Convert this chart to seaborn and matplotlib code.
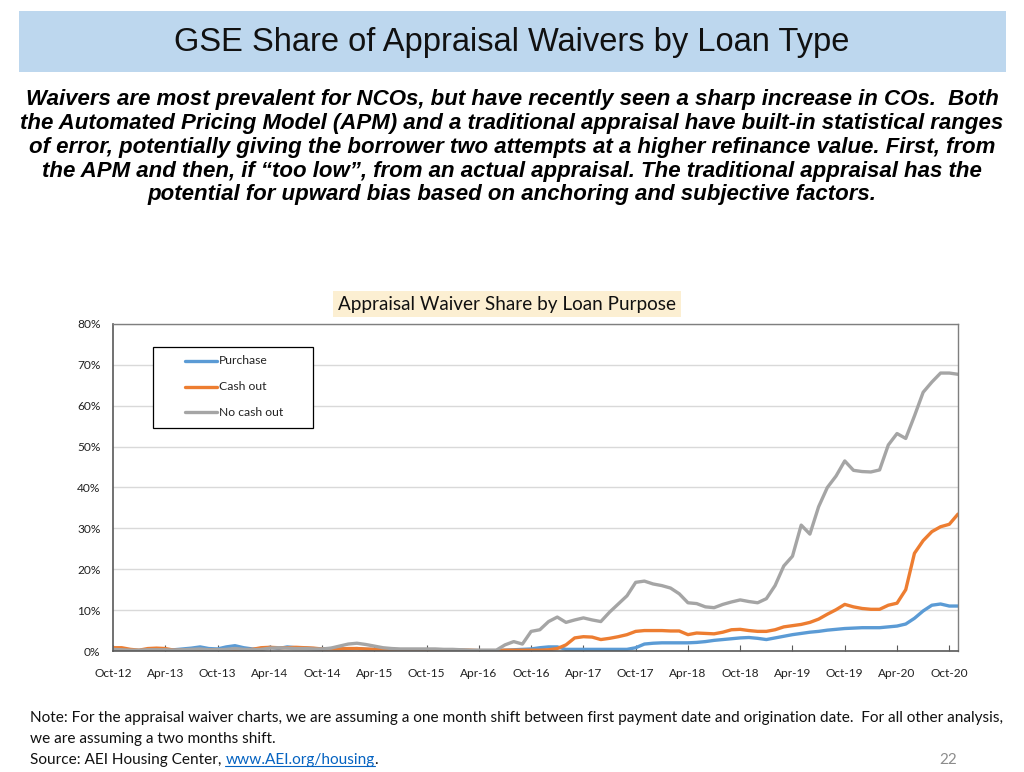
import numpy as np
import pandas as pd
import matplotlib
matplotlib.use("Agg")
import matplotlib.pyplot as plt
import seaborn as sns
from matplotlib.lines import Line2D
from matplotlib.patches import Rectangle

# ---------------- data ----------------
tick_labels = ["Oct-12", "Apr-13", "Oct-13", "Apr-14", "Oct-14", "Apr-15", "Oct-15",
               "Apr-16", "Oct-16", "Apr-17", "Oct-17", "Apr-18", "Oct-18", "Apr-19",
               "Oct-19", "Apr-20", "Oct-20"]
series_names = ["Purchase", "Cash out", "No cash out"]

purchase = [0.3, 0.2, 0.1, 0.1, 0.2, 0.3, 0.2, 0.3, 0.5, 0.7,
            1.0, 0.6, 0.5, 1.0, 1.3, 0.8, 0.5, 0.4, 0.9, 0.6,
            1.0, 0.8, 0.7, 0.6, 0.5, 0.6, 0.5, 0.5, 0.6, 0.4,
            0.4, 0.3, 0.3, 0.3, 0.3, 0.3, 0.3, 0.2, 0.2, 0.2,
            0.2, 0.1, 0.1, 0.1, 0.1, 0.2, 0.3, 0.4, 0.5, 0.8,
            1.0, 1.0, 0.4, 0.4, 0.4, 0.4, 0.4, 0.4, 0.4, 0.4,
            0.8, 1.7, 1.9, 2.0, 2.0, 2.0, 2.0, 2.1, 2.3, 2.6,
            2.8, 3.0, 3.2, 3.3, 3.1, 2.8, 3.2, 3.6, 4.0, 4.3,
            4.6, 4.8, 5.1, 5.3, 5.5, 5.6, 5.7, 5.7, 5.7, 5.9,
            6.1, 6.6, 8.0, 9.8, 11.2, 11.5, 11.0, 11.0]

cash_out = [0.8, 0.8, 0.4, 0.2, 0.6, 0.7, 0.6, 0.2, 0.2, 0.2,
            0.2, 0.3, 0.3, 0.2, 0.2, 0.3, 0.4, 0.8, 0.9, 0.8,
            0.8, 0.9, 0.8, 0.7, 0.5, 0.5, 0.5, 0.6, 0.6, 0.5,
            0.4, 0.3, 0.3, 0.3, 0.3, 0.2, 0.2, 0.2, 0.2, 0.2,
            0.2, 0.2, 0.1, 0.1, 0.1, 0.2, 0.2, 0.2, 0.2, 0.2,
            0.3, 0.6, 1.5, 3.2, 3.5, 3.4, 2.8, 3.1, 3.5, 4.0,
            4.8, 5.0, 5.0, 5.0, 4.9, 4.9, 4.0, 4.4, 4.3, 4.2,
            4.6, 5.2, 5.3, 5.0, 4.8, 4.8, 5.2, 5.9, 6.2, 6.5,
            7.0, 7.8, 9.0, 10.1, 11.4, 10.8, 10.4, 10.2, 10.2, 11.2,
            11.7, 15.0, 23.9, 27.0, 29.2, 30.4, 31.0, 33.5]

no_cash_out = [0.4, 0.3, 0.2, 0.2, 0.3, 0.3, 0.3, 0.2, 0.3, 0.4,
               0.5, 0.3, 0.3, 0.4, 0.6, 0.4, 0.3, 0.4, 0.7, 0.8,
               0.7, 0.6, 0.6, 0.5, 0.5, 0.7, 1.2, 1.7, 1.9, 1.6,
               1.2, 0.8, 0.6, 0.5, 0.5, 0.5, 0.5, 0.5, 0.4, 0.4,
               0.3, 0.2, 0.2, 0.2, 0.2, 1.5, 2.3, 1.7, 4.8, 5.2,
               7.2, 8.3, 7.0, 7.6, 8.1, 7.6, 7.2, 9.5, 11.5, 13.5,
               16.8, 17.1, 16.4, 16.0, 15.4, 14.0, 11.8, 11.6, 10.8, 10.6,
               11.4, 12.0, 12.5, 12.1, 11.8, 12.8, 16.0, 20.8, 23.2, 30.8,
               28.6, 35.3, 40.0, 42.8, 46.5, 44.2, 43.9, 43.8, 44.3, 50.4,
               53.2, 52.0, 57.5, 63.3, 65.8, 68.0, 68.0, 67.7]

colors = ["#5B9BD5", "#ED7D31", "#A5A5A5"]

# ---------------- frame ----------------
n = len(purchase)
month_idx = np.arange(n)
df = pd.concat([
    pd.DataFrame({"month": month_idx, "share": vals, "series": name})
    for name, vals in zip(series_names, [purchase, cash_out, no_cash_out])
], ignore_index=True)

sns.set_theme(style="white")
plt.rcParams["font.family"] = ["Lato", "DejaVu Sans"]

W, H = 1024, 772
fig = plt.figure(figsize=(W / 100, H / 100), dpi=100)
fig.patch.set_facecolor("white")

def fx(px):
    return px / W

def fy(py):
    return 1 - py / H

# title banner
fig.add_artist(Rectangle((fx(19), fy(72)), fx(1006) - fx(19), fy(11) - fy(72),
                         transform=fig.transFigure, facecolor="#BDD7EE",
                         edgecolor="none", zorder=0))
fig.text(0.5, fy(42), "GSE Share of Appraisal Waivers by Loan Type",
         ha="center", va="center", fontsize=23.5, color="#111111",
         family=["Liberation Sans", "DejaVu Sans"])

sub_lines = [
    "Waivers are most prevalent for NCOs, but have recently seen a sharp increase in COs.  Both",
    "the Automated Pricing Model (APM) and a traditional appraisal have built-in statistical ranges",
    "of error, potentially giving the borrower two attempts at a higher refinance value. First, from",
    "the APM and then, if \u201ctoo low\u201d, from an actual appraisal. The traditional appraisal has the",
    "potential for upward bias based on anchoring and subjective factors.",
]
for i, line in enumerate(sub_lines):
    fig.text(0.5, fy(100 + i * 23.7), line, ha="center", va="center",
             fontsize=16.0, fontweight="bold", fontstyle="italic", color="#000000",
             family=["Liberation Sans", "DejaVu Sans"])

# ---------------- chart ----------------
ax = fig.add_axes([fx(113), fy(651), fx(958) - fx(113), fy(324) - fy(651)])
sns.lineplot(data=df, x="month", y="share", hue="series", palette=colors,
             hue_order=series_names, linewidth=2.4, ax=ax, legend=False)

ax.set_xlim(0, n - 1)
ax.set_ylim(0, 80)
ax.set_yticks(np.arange(0, 81, 10))
ax.set_yticklabels([f"{v}%" for v in range(0, 81, 10)])
ax.set_xticks(np.arange(0, 6 * len(tick_labels), 6))
ax.set_xticklabels(tick_labels)
ax.set_xlabel("")
ax.set_ylabel("")
ax.yaxis.grid(True, color="#D9D9D9", linewidth=1.0)
ax.xaxis.grid(False)
ax.set_axisbelow(True)
ax.tick_params(axis="x", direction="in", length=4, width=0.8, color="#595959",
               labelsize=8.6, labelcolor="#222222", pad=12, bottom=True)
ax.tick_params(axis="y", length=0, labelsize=8.6, labelcolor="#222222", pad=9)
for side in ["left", "bottom"]:
    ax.spines[side].set_color("#595959")
    ax.spines[side].set_linewidth(1.2)
for side in ["top", "right"]:
    ax.spines[side].set_color("#7F7F7F")
    ax.spines[side].set_linewidth(1.0)

# legend box drawn in figure pixel coordinates
fig.add_artist(Rectangle((fx(153), fy(428)), fx(313) - fx(153), fy(347) - fy(428),
                         transform=fig.transFigure, facecolor="white",
                         edgecolor="#000000", linewidth=0.9, zorder=5))
for k, (name, c) in enumerate(zip(series_names, colors)):
    yy = fy(361 + k * 25.5)
    fig.add_artist(Line2D([fx(185), fx(217)], [yy, yy], transform=fig.transFigure,
                          color=c, linewidth=2.4, zorder=6))
    fig.text(fx(219), yy, name, ha="left", va="center", fontsize=8.7,
             color="#222222", zorder=6)

fig.text(fx(507), fy(304), "Appraisal Waiver Share by Loan Purpose",
         ha="center", va="center", fontsize=13.6, color="#111111",
         bbox=dict(facecolor="#FCEFD2", edgecolor="none", boxstyle="square,pad=0.25"))

# ---------------- notes ----------------
note_kw = dict(fontsize=11.1, color="#111111", ha="left", va="center")
fig.text(fx(30), fy(718), "Note: For the appraisal waiver charts, we are assuming a one month shift "
         "between first payment date and origination date.  For all other analysis,", **note_kw)
fig.text(fx(30), fy(739), "we are assuming a two months shift.", **note_kw)
src = fig.text(fx(30), fy(760), "Source: AEI Housing Center, ", **note_kw)
fig.canvas.draw()
r = fig.canvas.get_renderer()
bb = src.get_window_extent(r)
link = fig.text(bb.x1 / W, fy(760), "www.AEI.org/housing", fontsize=11.1,
                color="#0563C1", ha="left", va="center")
fig.canvas.draw()
lb = link.get_window_extent(r)
fig.add_artist(Line2D([lb.x0 / W, lb.x1 / W], [(lb.y0 + 1) / H, (lb.y0 + 1) / H],
                      transform=fig.transFigure, color="#0563C1", linewidth=0.8))
fig.text(lb.x1 / W, fy(760), ".", fontsize=11.1, color="#111111", ha="left", va="center")
fig.text(fx(948), fy(760), "22", fontsize=11, color="#8C8C8C", ha="center", va="center")

fig.savefig("out.png", dpi=100, facecolor="white")
